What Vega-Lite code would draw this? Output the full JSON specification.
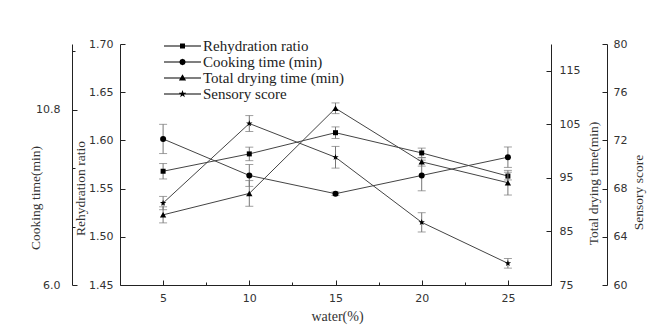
{
  "$schema": "https://vega.github.io/schema/vega-lite/v6.json",
  "width": 431,
  "height": 241,
  "autosize": {"type": "none"},
  "padding": {"left": 120, "top": 44, "right": 109, "bottom": 41},
  "background": "white",
  "config": {
    "view": {"stroke": null},
    "axis": {
      "grid": false,
      "domainColor": "#222",
      "tickColor": "#222",
      "labelFont": "DejaVu Sans",
      "labelFontSize": 11,
      "labelColor": "#333",
      "titleFont": "Liberation Serif",
      "titleFontSize": 13.5,
      "titleFontWeight": "normal",
      "titleColor": "#333",
      "labelOverlap": false,
      "labelFlush": false,
      "labelBound": false
    },
    "legend": {"labelFont": "Liberation Serif", "labelFontSize": 15, "labelColor": "#222"}
  },
  "data": {
    "values": [
      {"series": "Rehydration ratio", "water": 5, "value": 1.568, "err": 0.008},
      {"series": "Rehydration ratio", "water": 10, "value": 1.586, "err": 0.007},
      {"series": "Rehydration ratio", "water": 15, "value": 1.608, "err": 0.006},
      {"series": "Rehydration ratio", "water": 20, "value": 1.587, "err": 0.005},
      {"series": "Rehydration ratio", "water": 25, "value": 1.563, "err": 0.004},
      {"series": "Cooking time (min)", "water": 5, "value": 10.0, "err": 0.4},
      {"series": "Cooking time (min)", "water": 10, "value": 9.0, "err": 0.3},
      {"series": "Cooking time (min)", "water": 15, "value": 8.5, "err": 0.05},
      {"series": "Cooking time (min)", "water": 20, "value": 9.0, "err": 0.42},
      {"series": "Cooking time (min)", "water": 25, "value": 9.5, "err": 0.28},
      {"series": "Total drying time (min)", "water": 5, "value": 88.1, "err": 1.5},
      {"series": "Total drying time (min)", "water": 10, "value": 92.1, "err": 2.4},
      {"series": "Total drying time (min)", "water": 15, "value": 108.0, "err": 1.0},
      {"series": "Total drying time (min)", "water": 20, "value": 98.0, "err": 0.8},
      {"series": "Total drying time (min)", "water": 25, "value": 94.1, "err": 2.3},
      {"series": "Sensory score", "water": 5, "value": 66.8, "err": 0.55},
      {"series": "Sensory score", "water": 10, "value": 73.4, "err": 0.66},
      {"series": "Sensory score", "water": 15, "value": 70.6, "err": 0.9},
      {"series": "Sensory score", "water": 20, "value": 65.2, "err": 0.8},
      {"series": "Sensory score", "water": 25, "value": 61.8, "err": 0.4}
    ]
  },
  "resolve": {"scale": {"y": "independent"}},
  "layer": [
    {
      "transform": [{"filter": "datum.series == 'Rehydration ratio'"}],
      "layer": [
        {
          "mark": {"type": "errorbar", "ticks": {"size": 8}, "color": "#777", "thickness": 1},
          "encoding": {
            "x": {"field": "water", "type": "quantitative", "title": "water(%)"},
            "y": {"field": "value", "type": "quantitative", "title": "Rehydration ratio"},
            "yError": {"field": "err"}
          }
        },
        {
          "mark": {"type": "line", "color": "#444", "strokeWidth": 1},
          "encoding": {
            "x": {
              "field": "water", "type": "quantitative", "title": "water(%)",
              "scale": {"domain": [2.5, 27.5], "nice": false, "zero": false},
              "axis": {
                "orient": "bottom",
                "values": [5, 7.5, 10, 12.5, 15, 17.5, 20, 22.5, 25],
                "labelExpr": "datum.value % 5 == 0 ? datum.label : ''",
                "labelOverlap": false,
                "tickSize": {"condition": {"test": "datum.value % 5 == 0", "value": -5}, "value": -3},
                "labelPadding": 12,
                "titleX": 217, "titleY": 31, "titleAlign": "center", "titleBaseline": "middle", "titleFontSize": 14
              }
            },
            "y": {
              "field": "value", "type": "quantitative", "title": "Rehydration ratio",
              "scale": {"domain": [1.45, 1.7], "nice": false, "zero": false},
              "axis": {
                "orient": "left",
                "values": [1.45, 1.475, 1.5, 1.525, 1.55, 1.575, 1.6, 1.625, 1.65, 1.675, 1.7],
                "labelExpr": "round(datum.value*1000) % 50 == 0 ? format(datum.value, '.2f') : ''",
                "labelOverlap": false,
                "tickSize": {"condition": {"test": "round(datum.value*1000) % 50 == 0", "value": -5}, "value": -3},
                "labelPadding": 12,
                "titleX": -40, "titleY": 144, "titleAngle": 270,
                "titleAlign": "center", "titleBaseline": "middle"
              }
            }
          }
        },
        {
          "mark": {"type": "point", "shape": "square", "filled": true, "color": "black", "size": 25, "opacity": 1},
          "encoding": {
            "x": {"field": "water", "type": "quantitative", "title": "water(%)"},
            "y": {"field": "value", "type": "quantitative", "title": "Rehydration ratio"}
          }
        },
        {
          "mark": {"type": "point", "filled": true, "color": "black", "opacity": 0},
          "encoding": {
            "x": {"field": "water", "type": "quantitative", "title": "water(%)"},
            "y": {"field": "value", "type": "quantitative", "title": "Rehydration ratio"},
            "shape": {
              "field": "series", "type": "nominal",
              "scale": {
                "domain": ["Rehydration ratio", "Cooking time (min)", "Total drying time (min)", "Sensory score"],
                "range": [
                  "M-3.7,-0.1H3.7V0.1H-3.7ZM-0.5,-0.5H0.5V0.5H-0.5Z",
                  "M-3.7,-0.1H3.7V0.1H-3.7ZM0.65,0L0.46,0.46L0,0.65L-0.46,0.46L-0.65,0L-0.46,-0.46L0,-0.65L0.46,-0.46Z",
                  "M-3.7,-0.1H3.7V0.1H-3.7ZM0,-0.75L0.72,0.5L-0.72,0.5Z",
                  "M-3.7,-0.1H3.7V0.1H-3.7ZM0,-0.8L0.19,-0.26L0.76,-0.25L0.3,0.1L0.47,0.65L0,0.32L-0.47,0.65L-0.3,0.1L-0.76,-0.25L-0.19,-0.26Z"
                ]
              },
              "legend": {
                "orient": "none", "legendX": 55, "legendY": -5.5,
                "title": null, "padding": 0,
                "symbolSize": 100, "symbolOpacity": 1,
                "symbolFillColor": "black", "symbolStrokeColor": "black", "symbolStrokeWidth": 0,
                "rowPadding": -1, "labelOffset": 13
              }
            }
          }
        }
      ]
    },
    {
      "transform": [{"filter": "datum.series == 'Cooking time (min)'"}],
      "layer": [
        {
          "mark": {"type": "errorbar", "ticks": {"size": 8}, "color": "#777", "thickness": 1},
          "encoding": {
            "x": {"field": "water", "type": "quantitative", "title": "water(%)"},
            "y": {"field": "value", "type": "quantitative", "title": "Cooking time(min)"},
            "yError": {"field": "err"}
          }
        },
        {
          "mark": {"type": "line", "color": "#444", "strokeWidth": 1},
          "encoding": {
            "x": {"field": "water", "type": "quantitative", "title": "water(%)"},
            "y": {
              "field": "value", "type": "quantitative", "title": "Cooking time(min)",
              "scale": {"domain": [6.0, 12.6], "nice": false, "zero": false},
              "axis": {
                "orient": "left", "offset": 48,
                "values": [6, 6.2, 6.4, 6.6, 6.8, 7, 7.2, 7.4, 7.6, 7.8, 8, 8.2, 8.4, 8.6, 8.8, 9, 9.2, 9.4, 9.6, 9.8, 10, 10.2, 10.4, 10.6, 10.8, 11, 11.2, 11.4, 11.6, 11.8, 12, 12.2, 12.4, 12.6],
                "labelExpr": "round(datum.value*10) % 6 == 0 ? format(datum.value, '.1f') : ''",
                "labelOverlap": false,
                "tickSize": {"condition": {"test": "round(datum.value*10) % 6 == 0", "value": -5}, "value": -3},
                "labelPadding": 17,
                "titleX": -37, "titleY": 153.5, "titleAngle": 270,
                "titleAlign": "center", "titleBaseline": "middle"
              }
            }
          }
        },
        {
          "mark": {"type": "point", "shape": "circle", "filled": true, "color": "black", "size": 36, "opacity": 1},
          "encoding": {
            "x": {"field": "water", "type": "quantitative", "title": "water(%)"},
            "y": {"field": "value", "type": "quantitative", "title": "Cooking time(min)"}
          }
        }
      ]
    },
    {
      "transform": [{"filter": "datum.series == 'Total drying time (min)'"}],
      "layer": [
        {
          "mark": {"type": "errorbar", "ticks": {"size": 8}, "color": "#777", "thickness": 1},
          "encoding": {
            "x": {"field": "water", "type": "quantitative", "title": "water(%)"},
            "y": {"field": "value", "type": "quantitative", "title": "Total drying time(min)"},
            "yError": {"field": "err"}
          }
        },
        {
          "mark": {"type": "line", "color": "#444", "strokeWidth": 1},
          "encoding": {
            "x": {"field": "water", "type": "quantitative", "title": "water(%)"},
            "y": {
              "field": "value", "type": "quantitative", "title": "Total drying time(min)",
              "scale": {"domain": [75, 120], "nice": false, "zero": false},
              "axis": {
                "orient": "right",
                "values": [75, 77.5, 80, 82.5, 85, 87.5, 90, 92.5, 95, 97.5, 100, 102.5, 105, 107.5, 110, 112.5, 115, 117.5, 120],
                "labelExpr": "datum.value % 5 == 0 ? datum.label : ''",
                "labelOverlap": false,
                "tickSize": {"condition": {"test": "datum.value % 5 == 0", "value": -5}, "value": -3},
                "labelPadding": 13,
                "titleX": 42, "titleY": 139, "titleAngle": 270,
                "titleAlign": "center", "titleBaseline": "middle"
              }
            }
          }
        },
        {
          "mark": {"type": "point", "shape": "triangle-up", "filled": true, "color": "black", "size": 40, "opacity": 1},
          "encoding": {
            "x": {"field": "water", "type": "quantitative", "title": "water(%)"},
            "y": {"field": "value", "type": "quantitative", "title": "Total drying time(min)"}
          }
        }
      ]
    },
    {
      "transform": [{"filter": "datum.series == 'Sensory score'"}],
      "layer": [
        {
          "mark": {"type": "errorbar", "ticks": {"size": 8}, "color": "#777", "thickness": 1},
          "encoding": {
            "x": {"field": "water", "type": "quantitative", "title": "water(%)"},
            "y": {"field": "value", "type": "quantitative", "title": "Sensory score"},
            "yError": {"field": "err"}
          }
        },
        {
          "mark": {"type": "line", "color": "#444", "strokeWidth": 1},
          "encoding": {
            "x": {"field": "water", "type": "quantitative", "title": "water(%)"},
            "y": {
              "field": "value", "type": "quantitative", "title": "Sensory score",
              "scale": {"domain": [60, 80], "nice": false, "zero": false},
              "axis": {
                "orient": "right", "offset": 56,
                "values": [60, 62, 64, 66, 68, 70, 72, 74, 76, 78, 80],
                "labelExpr": "datum.value % 4 == 0 ? datum.label : ''",
                "labelOverlap": false,
                "tickSize": {"condition": {"test": "datum.value % 4 == 0", "value": -5}, "value": -3},
                "labelPadding": 11,
                "titleX": 31, "titleY": 148, "titleAngle": 270,
                "titleAlign": "center", "titleBaseline": "middle"
              }
            }
          }
        },
        {
          "mark": {"type": "point", "shape": "M0,-1L0.235,-0.324L0.951,-0.309L0.38,0.124L0.588,0.809L0,0.4L-0.588,0.809L-0.38,0.124L-0.951,-0.309L-0.235,-0.324Z", "filled": true, "color": "black", "size": 45, "opacity": 1},
          "encoding": {
            "x": {"field": "water", "type": "quantitative", "title": "water(%)"},
            "y": {"field": "value", "type": "quantitative", "title": "Sensory score"}
          }
        }
      ]
    }
  ]
}
